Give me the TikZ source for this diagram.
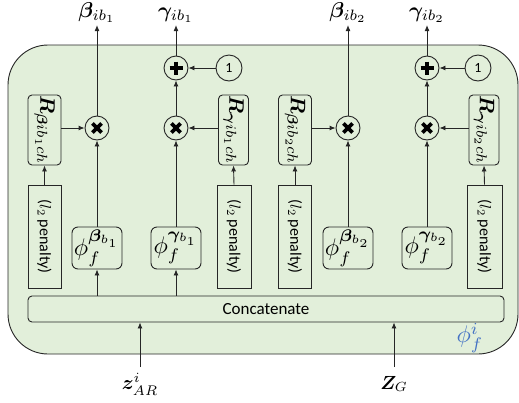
\RequirePackage{fix-cm}
\documentclass[tikz,border=0pt]{standalone}
\usepackage{fontspec}
\setmainfont{Carlito}
\usepackage{amsmath,bm,graphicx}
\usetikzlibrary{arrows.meta}
\definecolor{framegreen}{HTML}{E2EFDA}
\definecolor{phiblue}{HTML}{4472C4}
\newcommand{\mbig}[2]{\scalebox{#1}{\fontsize{10}{12}\selectfont$#2$}}
\tikzset{
  ln/.style={line width=0.9pt, draw=black!85},
  arr/.style={ln, -{Latex[length=6pt,width=5pt]}},
  rbox/.style={ln, rounded corners=4pt, inner sep=0pt, minimum height=70pt},
  lbox/.style={ln, inner sep=0pt, minimum height=103pt, font=\fontsize{16}{18}\selectfont},
  phibox/.style={ln, rounded corners=6pt, inner sep=0pt, minimum width=50pt, minimum height=42pt},
  opc/.style={ln, circle, inner sep=0pt, minimum size=24pt},
  onec/.style={ln, circle, inner sep=0pt, minimum size=26pt, font=\fontsize{14}{16}\selectfont},
  toplab/.style={inner sep=2.5pt, anchor=base},
}
\newcommand{\timesmark}[1]{\draw[line width=3.6pt] ([shift={(-4.6,-4.6)}]#1.center) -- ([shift={(4.6,4.6)}]#1.center) ([shift={(-4.6,4.6)}]#1.center) -- ([shift={(4.6,-4.6)}]#1.center);}
\newcommand{\plusmark}[1]{\draw[line width=3.6pt] ([shift={(-6.5,0)}]#1.center) -- ([shift={(6.5,0)}]#1.center) ([shift={(0,-6.5)}]#1.center) -- ([shift={(0,6.5)}]#1.center);}
\begin{document}
\begin{tikzpicture}[x=1pt,y=-1pt]
\useasboundingbox (0,0) rectangle (519,402);
% frame
\draw[ln, fill=framegreen, rounded corners=40pt] (8,45) rectangle (518,354);
\node[text=phiblue] (phiI) at (470,338) {\mbig{2.4}{\phi_f^{i}}};

% concatenate
\node[ln, fill=framegreen, rounded corners=4pt, minimum width=476pt, minimum height=26pt, inner sep=0pt, font=\fontsize{17}{20}\selectfont] (cat) at (266,309) {Concatenate};

% ---------- block 1 ----------
\node[rbox, minimum width=33pt] (rb1) at (44.5,130) {\rotatebox{-90}{\mbig{2.1}{\bm{R}_{\bm{\beta} i b_1 c h}}}};
\node[lbox, minimum width=33pt] (lb1) at (44.5,236.5) {\rotatebox{-90}{(\mbig{1.6}{l_2} penalty)}};
\node[opc] (tb1) at (97,128) {};
\timesmark{tb1}
\node[phibox] (pb1) at (97,248) {\mbig{2.4}{\phi_f^{\bm{\beta}_{b_1}}}};
\node[toplab] (Lb1) at (97,17) {\mbig{2.15}{\bm{\beta}_{ib_1}}};

\node[rbox, minimum width=30pt] (rg1) at (233.5,130) {\rotatebox{-90}{\mbig{2.1}{\bm{R}_{\bm{\gamma} i b_1 c h}}}};
\node[lbox, minimum width=34pt] (lg1) at (234,236.5) {\rotatebox{-90}{(\mbig{1.6}{l_2} penalty)}};
\node[opc] (tg1) at (176,128) {};
\timesmark{tg1}
\node[opc] (pl1) at (176,68) {};
\plusmark{pl1}
\node[onec] (one1) at (229,68) {1};
\node[phibox] (pg1) at (176,248) {\mbig{2.4}{\phi_f^{\bm{\gamma}_{b_1}}}};
\node[toplab] (Lg1) at (176,17) {\mbig{2.15}{\bm{\gamma}_{ib_1}}};

% ---------- block 2 ----------
\node[rbox, minimum width=33pt] (rb2) at (295,130) {\rotatebox{-90}{\mbig{2.1}{\bm{R}_{\bm{\beta} i b_2 c h}}}};
\node[lbox, minimum width=33pt] (lb2) at (295,236.5) {\rotatebox{-90}{(\mbig{1.6}{l_2} penalty)}};
\node[opc] (tb2) at (348,128) {};
\timesmark{tb2}
\node[phibox] (pb2) at (348,248) {\mbig{2.4}{\phi_f^{\bm{\beta}_{b_2}}}};
\node[toplab] (Lb2) at (348,17) {\mbig{2.15}{\bm{\beta}_{ib_2}}};

\node[rbox, minimum width=30pt] (rg2) at (484,130) {\rotatebox{-90}{\mbig{2.1}{\bm{R}_{\bm{\gamma} i b_2 c h}}}};
\node[lbox, minimum width=35pt] (lg2) at (484.5,236.5) {\rotatebox{-90}{(\mbig{1.6}{l_2} penalty)}};
\node[opc] (tg2) at (427,128) {};
\timesmark{tg2}
\node[opc] (pl2) at (427,68) {};
\plusmark{pl2}
\node[onec] (one2) at (478,68) {1};
\node[phibox] (pg2) at (427,248) {\mbig{2.4}{\phi_f^{\bm{\gamma}_{b_2}}}};
\node[toplab] (Lg2) at (427,17) {\mbig{2.15}{\bm{\gamma}_{ib_2}}};

% inputs
\node (zar) at (140,384) {\mbig{2.0}{\bm{z}^{i}_{AR}}};
\node (zg) at (394,384) {\mbig{1.9}{\bm{Z}_{G}}};
\coordinate (zarS) at (140,367);
\coordinate (zgS) at (394,367);

% connectors
\draw[arr] (zarS) -- (zarS |- cat.south);
\draw[arr] (zgS) -- (zgS |- cat.south);
\draw[arr] (cat.north -| pb1) -- (pb1.south);
\draw[arr] (cat.north -| pg1) -- (pg1.south);

\foreach \blk in {b1,g1,b2,g2}{
  \draw[arr] (l\blk.north) -- (r\blk.south);
}
\draw[arr] (rb1.east |- tb1) -- (tb1.west);
\draw[arr] (rg1.west |- tg1) -- (tg1.east);
\draw[arr] (rb2.east |- tb2) -- (tb2.west);
\draw[arr] (rg2.west |- tg2) -- (tg2.east);

\draw[arr] (pb1.north) -- (tb1.south);
\draw[arr] (pg1.north) -- (tg1.south);
\draw[arr] (pb2.north) -- (tb2.south);
\draw[arr] (pg2.north) -- (tg2.south);

\draw[arr] (tg1.north) -- (pl1.south);
\draw[arr] (tg2.north) -- (pl2.south);
\draw[arr] (one1.west) -- (pl1.east);
\draw[arr] (one2.west) -- (pl2.east);

\draw[arr] (tb1.north) -- (Lb1.south -| tb1);
\draw[arr] (pl1.north) -- (Lg1.south -| pl1);
\draw[arr] (tb2.north) -- (Lb2.south -| tb2);
\draw[arr] (pl2.north) -- (Lg2.south -| pl2);
\end{tikzpicture}
\end{document}
